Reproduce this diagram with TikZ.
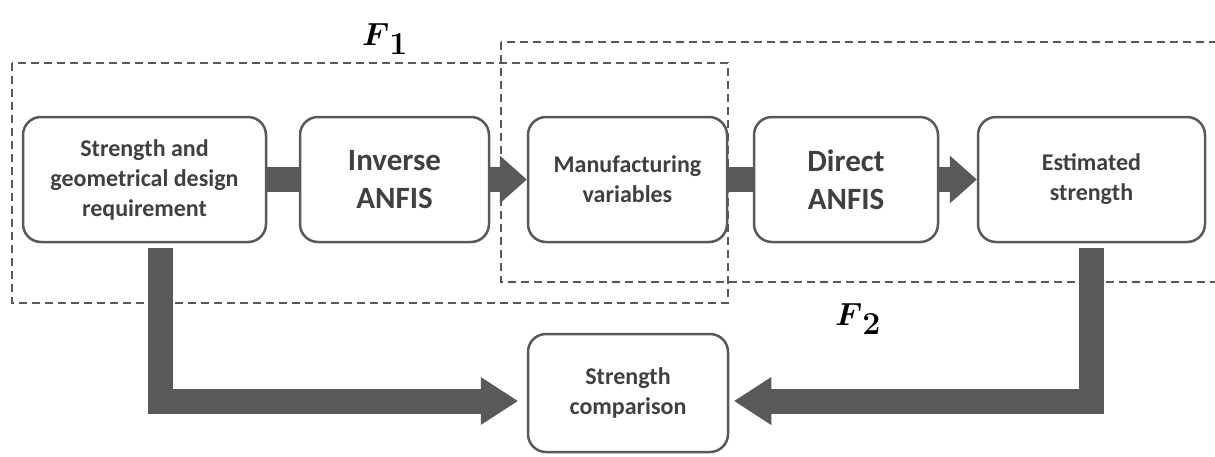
\RequirePackage{fix-cm}
\documentclass[tikz,border=0pt]{standalone}
\usepackage{amsmath}
\usepackage{fontspec}
\setmainfont{Carlito}
\usetikzlibrary{arrows.meta}
\definecolor{boxgray}{HTML}{595959}
\definecolor{txtgray}{HTML}{404040}

\begin{document}
\begin{tikzpicture}[x=1pt, y=-1pt,
  block/.style={draw=boxgray, line width=2.5pt, rounded corners=18pt, fill=white, align=center,
    text=txtgray, inner sep=0pt, font=\bfseries\fontsize{24}{30}\selectfont},
  bigtxt/.style={font=\bfseries\fontsize{31}{38}\selectfont},
  bar/.style={draw=boxgray, line width=25pt},
  flow/.style={bar, -{Triangle[length=27pt, width=48pt, line width=0pt]}},
  longflow/.style={bar, -{Triangle[length=37pt, width=48pt, line width=0pt]}},
  group/.style={draw=boxgray, line width=1.3pt, dash pattern=on 8pt off 5pt},
  flabel/.style={text=black, inner sep=0pt, font=\fontsize{32}{36}\selectfont}]
  \useasboundingbox (0,0) rectangle (1215,456);
  \draw[group] (12,63) rectangle (728,303);
  \draw[group] (501,42) rectangle (1230,282);
  \node[flabel] (f1) at (385,39) {$\boldsymbol{F}_{\textstyle\boldsymbol{1}}$};
  \node[flabel] (f2) at (858,319) {$\boldsymbol{F}_{\textstyle\boldsymbol{2}}$};

  \node[block, minimum width=243pt, minimum height=125pt] (req) at (144.5,179.5)
    {Strength and\\geometrical design\\requirement};
  \node[block, bigtxt, minimum width=189pt, minimum height=125pt] (inv) at (394.5,179.5) {Inverse\\ANFIS};
  \node[block, minimum width=199pt, minimum height=125pt] (man) at (627.5,179.5) {Manufacturing\\variables};
  \node[block, bigtxt, minimum width=184pt, minimum height=125pt] (dir) at (846,179.5) {Direct\\ANFIS};
  \node[block, minimum width=227pt, minimum height=125pt] (est) at (1091.5,179.5) {Estimated\\strength};
  \node[block, minimum width=200pt, minimum height=118pt] (cmp) at (628,393) {Strength\\comparison};

  \draw[bar] (req.east) -- (inv.west);
  \draw[flow] (inv.east) -- (man.west);
  \draw[bar] (man.east) -- (dir.west);
  \draw[flow] (dir.east) -- (est.west);

  \coordinate (lstart) at ([xshift=15.5pt, yshift=-5pt]req.south);
  \coordinate (lend) at ([xshift=-9pt, yshift=-8pt]cmp.west);
  \coordinate (rstart) at ([yshift=-5pt]est.south);
  \coordinate (rend) at ([xshift=5pt, yshift=-8pt]cmp.east);
  \draw[longflow] (lstart) |- (lend);
  \draw[longflow] (rstart) |- (rend);
\end{tikzpicture}
\end{document}
